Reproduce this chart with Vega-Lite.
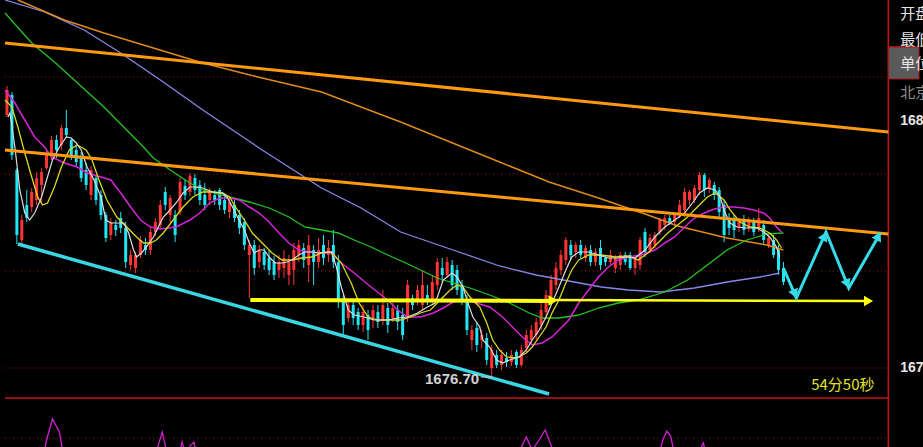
{
"$schema":"https://vega.github.io/schema/vega-lite/v6.json",
"width":923,"height":447,"autosize":{"type":"none"},"padding":0,
"background":"#000000",
"config":{"view":{"stroke":null}},
"datasets":{
"grid":[{"t":-0.4,"t2":178.2,"p":1691.65},{"t":-0.4,"t2":178.2,"p":1686.8},{"t":-0.4,"t2":178.2,"p":1681.95},{"t":-0.4,"t2":178.2,"p":1677.1},{"t":-0.4,"t2":178.2,"p":1673.6}],
"hborder":[{"t":-0.4,"t2":178.2,"p":1675.6},{"t":178.2,"t2":184.2,"p":1693.15}],
"vborder":[{"t":178.2,"p":1673.15,"p2":1695.5}],
"box":[{"t":178.2,"t2":184.4,"p":1693.15,"p2":1691.55}],
"candles":[
{"t":0,"o":1689.75,"c":1691.0,"h":1691.2,"l":1689.65},
{"t":1,"o":1690.75,"c":1687.75,"h":1690.9,"l":1687.5},
{"t":2,"o":1687.0,"c":1683.75,"h":1687.1,"l":1683.3},
{"t":3,"o":1683.5,"c":1684.5,"h":1684.75,"l":1683.25},
{"t":4,"o":1685.25,"c":1684.6,"h":1686.0,"l":1684.4},
{"t":5,"o":1685.15,"c":1685.9,"h":1686.1,"l":1684.9},
{"t":6,"o":1685.5,"c":1686.6,"h":1686.9,"l":1685.25},
{"t":7,"o":1686.25,"c":1686.9,"h":1687.1,"l":1685.35},
{"t":8,"o":1687.1,"c":1687.75,"h":1688.0,"l":1687.0},
{"t":9,"o":1687.65,"c":1688.5,"h":1688.7,"l":1687.5},
{"t":10,"o":1688.5,"c":1688.0,"h":1688.75,"l":1687.6},
{"t":11,"o":1688.25,"c":1689.1,"h":1689.25,"l":1688.0},
{"t":12,"o":1689.1,"c":1688.75,"h":1690.0,"l":1688.6},
{"t":13,"o":1688.5,"c":1687.75,"h":1688.6,"l":1687.5},
{"t":14,"o":1688.0,"c":1687.4,"h":1688.25,"l":1687.15},
{"t":15,"o":1687.6,"c":1686.6,"h":1687.9,"l":1686.4},
{"t":16,"o":1687.0,"c":1686.25,"h":1687.35,"l":1686.0},
{"t":17,"o":1685.75,"c":1687.0,"h":1687.2,"l":1685.5},
{"t":18,"o":1686.6,"c":1685.5,"h":1686.75,"l":1685.25},
{"t":19,"o":1685.75,"c":1684.75,"h":1686.0,"l":1684.5},
{"t":20,"o":1684.75,"c":1683.6,"h":1684.9,"l":1683.4},
{"t":21,"o":1683.75,"c":1684.4,"h":1684.6,"l":1683.5},
{"t":22,"o":1684.25,"c":1684.0,"h":1684.5,"l":1683.7},
{"t":23,"o":1684.6,"c":1684.1,"h":1684.9,"l":1683.85},
{"t":24,"o":1684.1,"c":1682.4,"h":1684.4,"l":1682.1},
{"t":25,"o":1682.25,"c":1682.75,"h":1683.0,"l":1682.0},
{"t":26,"o":1682.1,"c":1682.75,"h":1682.9,"l":1681.85},
{"t":27,"o":1682.75,"c":1683.5,"h":1683.7,"l":1682.6},
{"t":28,"o":1683.25,"c":1683.0,"h":1683.6,"l":1682.75},
{"t":29,"o":1683.0,"c":1683.9,"h":1684.1,"l":1682.75},
{"t":30,"o":1683.9,"c":1684.4,"h":1684.6,"l":1683.7},
{"t":31,"o":1684.25,"c":1685.25,"h":1685.5,"l":1684.1},
{"t":32,"o":1685.9,"c":1685.25,"h":1686.15,"l":1685.0},
{"t":33,"o":1684.75,"c":1685.6,"h":1685.75,"l":1684.4},
{"t":34,"o":1684.75,"c":1683.75,"h":1685.0,"l":1683.4},
{"t":35,"o":1684.9,"c":1686.4,"h":1686.6,"l":1684.75},
{"t":36,"o":1686.2,"c":1685.75,"h":1686.5,"l":1685.5},
{"t":37,"o":1685.9,"c":1686.7,"h":1686.85,"l":1685.7},
{"t":38,"o":1686.6,"c":1686.0,"h":1686.8,"l":1685.75},
{"t":39,"o":1686.25,"c":1685.5,"h":1686.5,"l":1685.25},
{"t":40,"o":1685.75,"c":1685.25,"h":1686.35,"l":1685.0},
{"t":41,"o":1685.5,"c":1685.9,"h":1686.1,"l":1685.25},
{"t":42,"o":1685.75,"c":1685.5,"h":1686.0,"l":1685.25},
{"t":43,"o":1686.0,"c":1685.25,"h":1686.1,"l":1685.0},
{"t":44,"o":1685.5,"c":1685.0,"h":1685.7,"l":1684.8},
{"t":45,"o":1684.9,"c":1685.4,"h":1685.6,"l":1684.6},
{"t":46,"o":1685.25,"c":1684.6,"h":1685.5,"l":1684.4},
{"t":47,"o":1684.75,"c":1684.1,"h":1685.0,"l":1683.8},
{"t":48,"o":1684.4,"c":1683.25,"h":1684.6,"l":1683.0},
{"t":49,"o":1682.75,"c":1683.25,"h":1683.5,"l":1680.6},
{"t":50,"o":1683.25,"c":1682.1,"h":1683.5,"l":1681.75},
{"t":51,"o":1682.4,"c":1683.0,"h":1683.25,"l":1682.1},
{"t":52,"o":1682.9,"c":1682.25,"h":1683.1,"l":1682.0},
{"t":53,"o":1682.6,"c":1682.0,"h":1683.0,"l":1681.75},
{"t":54,"o":1682.4,"c":1681.75,"h":1682.7,"l":1681.5},
{"t":55,"o":1682.0,"c":1682.4,"h":1682.75,"l":1681.6},
{"t":56,"o":1682.1,"c":1682.6,"h":1683.0,"l":1681.6},
{"t":57,"o":1681.75,"c":1682.4,"h":1682.75,"l":1681.25},
{"t":58,"o":1682.0,"c":1683.0,"h":1683.35,"l":1681.25},
{"t":59,"o":1682.75,"c":1683.25,"h":1683.5,"l":1682.4},
{"t":60,"o":1683.1,"c":1682.5,"h":1683.35,"l":1682.1},
{"t":61,"o":1682.25,"c":1683.25,"h":1683.75,"l":1681.4},
{"t":62,"o":1683.0,"c":1682.4,"h":1683.25,"l":1681.25},
{"t":63,"o":1682.4,"c":1683.0,"h":1683.6,"l":1682.1},
{"t":64,"o":1683.25,"c":1682.6,"h":1683.75,"l":1682.25},
{"t":65,"o":1682.75,"c":1683.1,"h":1683.5,"l":1682.4},
{"t":66,"o":1683.25,"c":1682.4,"h":1684.0,"l":1682.1},
{"t":67,"o":1682.4,"c":1680.5,"h":1682.75,"l":1680.1},
{"t":68,"o":1680.5,"c":1679.25,"h":1680.75,"l":1678.75},
{"t":69,"o":1679.6,"c":1680.25,"h":1680.5,"l":1679.4},
{"t":70,"o":1680.25,"c":1679.6,"h":1680.5,"l":1679.25},
{"t":71,"o":1679.9,"c":1679.25,"h":1680.1,"l":1679.0},
{"t":72,"o":1679.25,"c":1679.9,"h":1680.25,"l":1678.9},
{"t":73,"o":1679.75,"c":1679.0,"h":1680.0,"l":1678.5},
{"t":74,"o":1679.6,"c":1680.0,"h":1680.25,"l":1679.1},
{"t":75,"o":1679.9,"c":1679.4,"h":1680.25,"l":1679.1},
{"t":76,"o":1679.5,"c":1680.25,"h":1681.0,"l":1679.25},
{"t":77,"o":1680.1,"c":1679.25,"h":1680.35,"l":1678.85},
{"t":78,"o":1679.6,"c":1680.1,"h":1680.35,"l":1679.4},
{"t":79,"o":1680.0,"c":1679.4,"h":1680.25,"l":1679.0},
{"t":80,"o":1679.75,"c":1678.75,"h":1680.1,"l":1678.5},
{"t":81,"o":1679.6,"c":1681.25,"h":1681.5,"l":1679.4},
{"t":82,"o":1680.6,"c":1680.25,"h":1680.75,"l":1680.0},
{"t":83,"o":1680.5,"c":1681.0,"h":1681.25,"l":1680.25},
{"t":84,"o":1680.25,"c":1681.25,"h":1682.0,"l":1680.0},
{"t":85,"o":1680.75,"c":1680.5,"h":1681.25,"l":1680.25},
{"t":86,"o":1680.5,"c":1681.4,"h":1681.75,"l":1680.25},
{"t":87,"o":1681.25,"c":1682.4,"h":1682.6,"l":1681.0},
{"t":88,"o":1682.1,"c":1681.75,"h":1682.6,"l":1681.4},
{"t":89,"o":1681.75,"c":1682.4,"h":1682.65,"l":1681.6},
{"t":90,"o":1682.25,"c":1681.25,"h":1682.5,"l":1681.0},
{"t":91,"o":1682.0,"c":1681.0,"h":1682.25,"l":1680.75},
{"t":92,"o":1681.25,"c":1680.5,"h":1681.5,"l":1680.25},
{"t":93,"o":1680.5,"c":1679.0,"h":1680.75,"l":1678.75},
{"t":94,"o":1678.5,"c":1679.0,"h":1679.25,"l":1678.0},
{"t":95,"o":1679.1,"c":1678.25,"h":1679.4,"l":1677.9},
{"t":96,"o":1678.5,"c":1678.75,"h":1679.0,"l":1678.1},
{"t":97,"o":1678.6,"c":1677.5,"h":1678.85,"l":1677.25},
{"t":98,"o":1677.1,"c":1678.0,"h":1678.25,"l":1676.7},
{"t":99,"o":1677.75,"c":1677.25,"h":1678.0,"l":1677.1},
{"t":100,"o":1677.25,"c":1677.75,"h":1678.0,"l":1677.0},
{"t":101,"o":1677.6,"c":1677.4,"h":1677.9,"l":1677.15},
{"t":102,"o":1677.4,"c":1677.75,"h":1678.0,"l":1677.2},
{"t":103,"o":1677.9,"c":1677.25,"h":1678.0,"l":1677.1},
{"t":104,"o":1677.25,"c":1678.0,"h":1678.25,"l":1677.15},
{"t":105,"o":1678.1,"c":1678.75,"h":1679.0,"l":1677.9},
{"t":106,"o":1678.5,"c":1679.0,"h":1679.25,"l":1678.25},
{"t":107,"o":1678.75,"c":1679.4,"h":1679.6,"l":1678.5},
{"t":108,"o":1679.25,"c":1680.0,"h":1680.5,"l":1679.0},
{"t":109,"o":1679.9,"c":1680.75,"h":1681.0,"l":1679.6},
{"t":110,"o":1680.6,"c":1681.5,"h":1681.75,"l":1680.4},
{"t":111,"o":1681.25,"c":1682.1,"h":1682.4,"l":1681.0},
{"t":112,"o":1682.0,"c":1682.75,"h":1683.0,"l":1681.75},
{"t":113,"o":1682.5,"c":1683.5,"h":1683.65,"l":1682.25},
{"t":114,"o":1683.25,"c":1682.75,"h":1683.5,"l":1682.5},
{"t":115,"o":1682.9,"c":1683.25,"h":1683.4,"l":1682.6},
{"t":116,"o":1683.25,"c":1682.75,"h":1683.5,"l":1682.6},
{"t":117,"o":1682.6,"c":1683.1,"h":1683.25,"l":1682.4},
{"t":118,"o":1683.0,"c":1682.4,"h":1683.25,"l":1682.2},
{"t":119,"o":1682.4,"c":1682.9,"h":1683.1,"l":1682.2},
{"t":120,"o":1683.1,"c":1682.25,"h":1683.5,"l":1682.0},
{"t":121,"o":1682.6,"c":1682.4,"h":1682.75,"l":1682.2},
{"t":122,"o":1682.4,"c":1682.75,"h":1683.0,"l":1682.25},
{"t":123,"o":1682.1,"c":1682.6,"h":1682.75,"l":1681.85},
{"t":124,"o":1682.25,"c":1682.75,"h":1682.9,"l":1682.0},
{"t":125,"o":1682.75,"c":1682.4,"h":1682.9,"l":1682.25},
{"t":126,"o":1682.75,"c":1682.1,"h":1682.9,"l":1682.0},
{"t":127,"o":1682.1,"c":1682.6,"h":1682.75,"l":1681.75},
{"t":128,"o":1682.25,"c":1683.5,"h":1683.65,"l":1682.0},
{"t":129,"o":1683.9,"c":1682.9,"h":1684.1,"l":1682.65},
{"t":130,"o":1683.0,"c":1683.6,"h":1683.8,"l":1682.85},
{"t":131,"o":1683.25,"c":1683.75,"h":1683.9,"l":1683.1},
{"t":132,"o":1683.9,"c":1684.5,"h":1684.6,"l":1683.75},
{"t":133,"o":1684.25,"c":1684.6,"h":1684.75,"l":1684.0},
{"t":134,"o":1684.6,"c":1684.4,"h":1684.75,"l":1684.25},
{"t":135,"o":1684.4,"c":1684.75,"h":1684.9,"l":1684.2},
{"t":136,"o":1684.75,"c":1685.25,"h":1685.5,"l":1684.6},
{"t":137,"o":1685.0,"c":1685.9,"h":1686.1,"l":1684.65},
{"t":138,"o":1685.5,"c":1685.9,"h":1686.0,"l":1685.25},
{"t":139,"o":1685.5,"c":1686.1,"h":1686.25,"l":1685.35},
{"t":140,"o":1686.0,"c":1686.75,"h":1686.9,"l":1685.75},
{"t":141,"o":1686.75,"c":1686.0,"h":1686.85,"l":1685.65},
{"t":142,"o":1686.1,"c":1686.5,"h":1686.6,"l":1685.85},
{"t":143,"o":1686.25,"c":1685.75,"h":1686.4,"l":1685.5},
{"t":144,"o":1686.0,"c":1684.9,"h":1686.15,"l":1684.65},
{"t":145,"o":1685.25,"c":1683.75,"h":1685.5,"l":1683.4},
{"t":146,"o":1684.6,"c":1684.1,"h":1684.85,"l":1683.75},
{"t":147,"o":1684.5,"c":1684.0,"h":1684.75,"l":1683.6},
{"t":148,"o":1684.1,"c":1684.5,"h":1684.6,"l":1683.9},
{"t":149,"o":1684.5,"c":1684.0,"h":1684.75,"l":1683.75},
{"t":150,"o":1684.1,"c":1684.5,"h":1684.65,"l":1683.9},
{"t":151,"o":1684.4,"c":1683.9,"h":1684.6,"l":1683.7},
{"t":152,"o":1684.1,"c":1684.6,"h":1685.1,"l":1683.9},
{"t":153,"o":1684.25,"c":1683.5,"h":1684.5,"l":1683.25},
{"t":154,"o":1683.25,"c":1683.6,"h":1683.75,"l":1683.1},
{"t":155,"o":1683.5,"c":1682.75,"h":1683.75,"l":1682.6},
{"t":156,"o":1683.0,"c":1682.0,"h":1683.25,"l":1681.75},
{"t":157,"o":1682.1,"c":1681.4,"h":1682.4,"l":1681.25}
],
"white":[{"t":0.2,"p":1689.65},{"t":0.6,"p":1689.85},{"t":1.6,"p":1688.15},{"t":2.6,"p":1686.0},{"t":3.6,"p":1684.85},{"t":4.6,"p":1684.5},{"t":5.6,"p":1684.85},{"t":7.0,"p":1685.65},{"t":8.0,"p":1686.5},{"t":9.2,"p":1687.5},{"t":10.6,"p":1688.15},{"t":12.0,"p":1688.65},{"t":13.0,"p":1688.6},{"t":14.0,"p":1688.35},{"t":15.0,"p":1688.0},{"t":16.2,"p":1687.15},{"t":17.6,"p":1686.5},{"t":19.0,"p":1685.65},{"t":20.0,"p":1684.5},{"t":21.0,"p":1684.35},{"t":22.2,"p":1684.35},{"t":23.6,"p":1684.35},{"t":24.6,"p":1683.85},{"t":25.6,"p":1683.0},{"t":26.2,"p":1682.65},{"t":27.2,"p":1682.85},{"t":28.2,"p":1683.15},{"t":29.6,"p":1683.65},{"t":30.6,"p":1684.15},{"t":31.6,"p":1684.65},{"t":32.6,"p":1684.9},{"t":34.2,"p":1685.35},{"t":35.6,"p":1685.85},{"t":37.0,"p":1686.15},{"t":38.2,"p":1686.15},{"t":39.6,"p":1686.1},{"t":41.6,"p":1685.9},{"t":43.6,"p":1685.85},{"t":44.6,"p":1685.6},{"t":45.6,"p":1685.15},{"t":46.6,"p":1684.65},{"t":48.0,"p":1684.0},{"t":49.0,"p":1683.35},{"t":50.0,"p":1682.85},{"t":51.0,"p":1683.0},{"t":52.0,"p":1683.0},{"t":53.0,"p":1682.65},{"t":54.2,"p":1682.35},{"t":55.6,"p":1682.35},{"t":56.6,"p":1682.4},{"t":57.6,"p":1682.5},{"t":59.0,"p":1682.75},{"t":60.2,"p":1682.9},{"t":61.6,"p":1682.9},{"t":63.0,"p":1682.85},{"t":64.2,"p":1682.9},{"t":65.6,"p":1682.9},{"t":66.6,"p":1682.15},{"t":67.6,"p":1681.15},{"t":69.0,"p":1680.0},{"t":70.2,"p":1679.75},{"t":72.2,"p":1679.65},{"t":74.2,"p":1679.5},{"t":77.0,"p":1679.5},{"t":79.0,"p":1679.6},{"t":81.0,"p":1679.65},{"t":83.0,"p":1679.85},{"t":85.0,"p":1680.15},{"t":86.6,"p":1680.35},{"t":88.2,"p":1681.5},{"t":90.0,"p":1681.85},{"t":91.0,"p":1681.65},{"t":92.2,"p":1681.15},{"t":93.2,"p":1680.35},{"t":94.2,"p":1679.65},{"t":95.6,"p":1679.15},{"t":96.2,"p":1678.5},{"t":97.6,"p":1678.15},{"t":99.0,"p":1677.5},{"t":100.2,"p":1677.35},{"t":101.6,"p":1677.5},{"t":103.6,"p":1677.65},{"t":105.0,"p":1678.0},{"t":106.2,"p":1678.5},{"t":107.6,"p":1679.0},{"t":109.0,"p":1679.65},{"t":110.2,"p":1680.35},{"t":111.6,"p":1681.15},{"t":113.0,"p":1682.0},{"t":114.2,"p":1682.65},{"t":115.6,"p":1682.9},{"t":117.6,"p":1682.9},{"t":119.6,"p":1682.75},{"t":121.6,"p":1682.6},{"t":123.6,"p":1682.6},{"t":125.6,"p":1682.65},{"t":127.0,"p":1682.6},{"t":129.0,"p":1683.0},{"t":131.0,"p":1683.65},{"t":133.0,"p":1684.15},{"t":135.0,"p":1684.5},{"t":137.0,"p":1684.85},{"t":138.6,"p":1685.35},{"t":140.0,"p":1685.85},{"t":141.6,"p":1686.1},{"t":143.2,"p":1686.0},{"t":144.2,"p":1685.65},{"t":145.2,"p":1684.85},{"t":146.2,"p":1684.35},{"t":147.6,"p":1684.15},{"t":149.6,"p":1684.1},{"t":151.6,"p":1684.1},{"t":153.0,"p":1683.9},{"t":154.2,"p":1683.65},{"t":155.6,"p":1683.15},{"t":156.2,"p":1682.65}],
"yellow":[{"t":-0.4,"p":1690.5},{"t":1.0,"p":1690.15},{"t":2.2,"p":1689.15},{"t":3.6,"p":1687.85},{"t":5.0,"p":1686.65},{"t":6.2,"p":1685.65},{"t":7.2,"p":1685.25},{"t":8.2,"p":1685.35},{"t":9.6,"p":1686.15},{"t":11.0,"p":1687.15},{"t":12.6,"p":1688.0},{"t":14.2,"p":1688.25},{"t":16.0,"p":1688.0},{"t":17.2,"p":1687.5},{"t":18.6,"p":1686.5},{"t":20.2,"p":1685.5},{"t":22.2,"p":1684.65},{"t":24.2,"p":1684.15},{"t":26.2,"p":1683.65},{"t":27.6,"p":1683.35},{"t":29.0,"p":1683.35},{"t":30.2,"p":1683.5},{"t":31.6,"p":1683.85},{"t":33.6,"p":1684.5},{"t":35.6,"p":1685.15},{"t":37.6,"p":1685.65},{"t":39.6,"p":1685.9},{"t":41.6,"p":1685.9},{"t":43.6,"p":1685.85},{"t":45.0,"p":1685.65},{"t":46.2,"p":1685.15},{"t":48.0,"p":1684.5},{"t":49.6,"p":1683.85},{"t":51.6,"p":1683.35},{"t":53.6,"p":1682.85},{"t":55.6,"p":1682.5},{"t":57.6,"p":1682.5},{"t":59.6,"p":1682.6},{"t":61.6,"p":1682.65},{"t":63.6,"p":1682.85},{"t":65.6,"p":1682.9},{"t":67.6,"p":1682.35},{"t":69.6,"p":1681.35},{"t":71.2,"p":1680.35},{"t":73.0,"p":1679.65},{"t":75.0,"p":1679.5},{"t":77.0,"p":1679.5},{"t":79.6,"p":1679.5},{"t":81.6,"p":1679.65},{"t":83.6,"p":1679.85},{"t":85.6,"p":1680.0},{"t":87.6,"p":1680.5},{"t":89.6,"p":1681.0},{"t":91.0,"p":1681.25},{"t":92.2,"p":1681.15},{"t":93.6,"p":1680.65},{"t":95.6,"p":1680.15},{"t":97.0,"p":1679.35},{"t":98.2,"p":1678.5},{"t":99.6,"p":1678.0},{"t":101.0,"p":1677.65},{"t":103.0,"p":1677.6},{"t":105.0,"p":1677.85},{"t":106.2,"p":1678.15},{"t":107.6,"p":1678.65},{"t":109.0,"p":1679.15},{"t":110.2,"p":1679.85},{"t":111.6,"p":1680.5},{"t":113.0,"p":1681.35},{"t":114.2,"p":1682.0},{"t":115.6,"p":1682.5},{"t":117.6,"p":1682.75},{"t":120.2,"p":1682.75},{"t":123.0,"p":1682.65},{"t":125.6,"p":1682.7},{"t":127.6,"p":1682.5},{"t":129.6,"p":1682.85},{"t":131.6,"p":1683.35},{"t":133.6,"p":1683.85},{"t":135.6,"p":1684.25},{"t":137.6,"p":1684.65},{"t":139.6,"p":1685.15},{"t":141.6,"p":1685.65},{"t":143.2,"p":1685.85},{"t":145.0,"p":1685.5},{"t":146.2,"p":1685.0},{"t":148.2,"p":1684.4},{"t":150.2,"p":1684.15},{"t":152.2,"p":1684.1},{"t":154.2,"p":1683.85},{"t":155.6,"p":1683.5},{"t":156.6,"p":1683.1}],
"magenta":[{"t":-0.4,"p":1691.0},{"t":1.6,"p":1690.35},{"t":3.6,"p":1689.5},{"t":5.6,"p":1688.65},{"t":7.6,"p":1688.15},{"t":9.0,"p":1687.65},{"t":11.6,"p":1687.35},{"t":14.2,"p":1687.15},{"t":16.2,"p":1686.85},{"t":19.0,"p":1686.65},{"t":21.0,"p":1686.5},{"t":23.0,"p":1685.85},{"t":25.0,"p":1685.15},{"t":27.0,"p":1684.5},{"t":29.0,"p":1684.15},{"t":31.0,"p":1684.05},{"t":34.2,"p":1684.15},{"t":37.0,"p":1684.5},{"t":39.0,"p":1684.85},{"t":41.0,"p":1685.35},{"t":43.0,"p":1685.6},{"t":45.0,"p":1685.6},{"t":47.0,"p":1685.5},{"t":49.0,"p":1685.15},{"t":51.0,"p":1684.85},{"t":53.0,"p":1684.4},{"t":55.0,"p":1683.85},{"t":57.0,"p":1683.35},{"t":59.0,"p":1683.0},{"t":61.0,"p":1682.9},{"t":63.6,"p":1682.85},{"t":65.6,"p":1682.85},{"t":67.6,"p":1682.35},{"t":70.2,"p":1681.85},{"t":73.6,"p":1681.15},{"t":77.0,"p":1680.5},{"t":79.0,"p":1680.0},{"t":81.0,"p":1679.65},{"t":83.6,"p":1679.65},{"t":86.2,"p":1679.85},{"t":88.2,"p":1680.1},{"t":90.2,"p":1680.4},{"t":92.2,"p":1680.5},{"t":94.2,"p":1680.4},{"t":97.6,"p":1680.15},{"t":100.2,"p":1679.65},{"t":102.2,"p":1679.15},{"t":104.2,"p":1678.65},{"t":106.2,"p":1678.25},{"t":108.2,"p":1678.35},{"t":110.2,"p":1678.65},{"t":111.6,"p":1679.0},{"t":113.6,"p":1679.5},{"t":115.6,"p":1680.35},{"t":117.6,"p":1681.0},{"t":119.6,"p":1681.65},{"t":121.6,"p":1682.15},{"t":123.6,"p":1682.5},{"t":125.6,"p":1682.65},{"t":128.2,"p":1682.75},{"t":131.0,"p":1683.0},{"t":133.0,"p":1683.35},{"t":135.0,"p":1683.65},{"t":137.0,"p":1684.15},{"t":139.0,"p":1684.6},{"t":141.0,"p":1684.85},{"t":143.0,"p":1685.05},{"t":145.0,"p":1685.15},{"t":147.0,"p":1685.15},{"t":149.0,"p":1685.1},{"t":151.0,"p":1685.0},{"t":153.0,"p":1684.85},{"t":154.2,"p":1684.6},{"t":155.6,"p":1684.15},{"t":156.6,"p":1683.9}],
"green":[{"t":-0.4,"p":1694.85},{"t":5.0,"p":1693.35},{"t":9.6,"p":1692.4},{"t":13.6,"p":1691.5},{"t":19.6,"p":1690.15},{"t":24.2,"p":1689.0},{"t":27.6,"p":1688.15},{"t":29.6,"p":1687.6},{"t":33.0,"p":1687.0},{"t":37.0,"p":1686.35},{"t":39.6,"p":1686.0},{"t":45.0,"p":1685.65},{"t":49.0,"p":1685.4},{"t":53.0,"p":1685.1},{"t":57.0,"p":1684.65},{"t":60.2,"p":1684.15},{"t":63.6,"p":1684.0},{"t":67.0,"p":1683.85},{"t":70.2,"p":1683.5},{"t":73.6,"p":1683.15},{"t":77.0,"p":1682.75},{"t":80.2,"p":1682.4},{"t":83.6,"p":1682.0},{"t":87.0,"p":1681.6},{"t":90.2,"p":1681.35},{"t":93.6,"p":1681.1},{"t":97.6,"p":1680.75},{"t":101.6,"p":1680.35},{"t":105.6,"p":1679.85},{"t":108.2,"p":1679.6},{"t":111.6,"p":1679.6},{"t":115.6,"p":1679.75},{"t":119.6,"p":1680.1},{"t":123.6,"p":1680.35},{"t":127.6,"p":1680.5},{"t":133.0,"p":1680.9},{"t":137.6,"p":1681.5},{"t":141.6,"p":1682.25},{"t":145.6,"p":1683.0},{"t":149.6,"p":1683.5},{"t":153.6,"p":1683.8},{"t":157.0,"p":1683.85}],
"purple":[{"t":-0.4,"p":1695.5},{"t":7.6,"p":1694.9},{"t":15.6,"p":1694.0},{"t":23.0,"p":1692.85},{"t":31.6,"p":1691.4},{"t":39.6,"p":1690.0},{"t":51.6,"p":1688.0},{"t":63.6,"p":1686.1},{"t":71.6,"p":1685.1},{"t":79.6,"p":1683.9},{"t":90.2,"p":1683.0},{"t":99.6,"p":1682.2},{"t":107.0,"p":1681.75},{"t":113.6,"p":1681.45},{"t":120.2,"p":1681.15},{"t":125.6,"p":1681.0},{"t":132.2,"p":1680.9},{"t":139.0,"p":1681.1},{"t":145.6,"p":1681.4},{"t":152.2,"p":1681.65},{"t":156.2,"p":1681.85}],
"orangeThin":[{"t":2.2,"p":1695.5},{"t":11.6,"p":1694.5},{"t":19.6,"p":1693.85},{"t":29.6,"p":1693.1},{"t":39.6,"p":1692.35},{"t":51.6,"p":1691.6},{"t":63.6,"p":1690.9},{"t":79.6,"p":1689.4},{"t":89.6,"p":1688.4},{"t":99.6,"p":1687.4},{"t":109.6,"p":1686.4},{"t":119.6,"p":1685.6},{"t":129.6,"p":1684.75},{"t":135.6,"p":1684.2},{"t":145.6,"p":1683.6},{"t":153.6,"p":1683.25},{"t":157.0,"p":1683.0}],
"trends":[{"id":"a","t":-0.4,"p":1693.35},{"id":"a","t":178.2,"p":1688.9},{"id":"b","t":-0.4,"p":1688.0},{"id":"b","t":178.2,"p":1683.8}],
"cyanTrend":[{"t":2.2,"p":1683.3},{"t":109.6,"p":1675.8}],
"yl1":[{"t":49.2,"p":1680.5},{"t":110.2,"p":1680.45}],
"yl2":[{"t":110.2,"p":1680.5},{"t":173.6,"p":1680.45}],
"yheads":[{"t":110.4,"p":1680.47},{"t":174.2,"p":1680.45}],
"zigzag":[{"t":157.0,"p":1682.1},{"t":159.6,"p":1680.6},{"t":165.6,"p":1683.9},{"t":170.2,"p":1681.1},{"t":176.6,"p":1683.85}],
"zheads":[{"dir":"down","t":159.3,"p":1680.8},{"dir":"up","t":165.3,"p":1683.7},{"dir":"down","t":169.9,"p":1681.3},{"dir":"up","t":176.2,"p":1683.7}],
"lowerMag":[{"t":-0.4,"p":1672.5},{"t":7.2,"p":1672.5},{"t":8.0,"p":1673.5},{"t":9.2,"p":1674.55},{"t":10.6,"p":1673.9},{"t":11.6,"p":1672.5},{"t":29.6,"p":1672.5},{"t":30.6,"p":1673.25},{"t":31.4,"p":1673.9},{"t":32.2,"p":1673.0},{"t":34.6,"p":1672.5},{"t":35.4,"p":1673.4},{"t":36.2,"p":1672.75},{"t":37.0,"p":1673.2},{"t":37.8,"p":1673.4},{"t":38.6,"p":1672.5},{"t":102.6,"p":1672.5},{"t":104.0,"p":1673.15},{"t":105.0,"p":1673.65},{"t":106.2,"p":1673.0},{"t":107.6,"p":1673.5},{"t":108.8,"p":1674.0},{"t":110.0,"p":1673.25},{"t":111.0,"p":1672.5},{"t":131.6,"p":1672.5},{"t":132.6,"p":1673.5},{"t":133.4,"p":1673.95},{"t":134.2,"p":1673.7},{"t":135.2,"p":1672.5},{"t":139.6,"p":1672.5},{"t":140.4,"p":1673.15},{"t":140.8,"p":1673.35},{"t":141.6,"p":1672.5},{"t":178.2,"p":1672.5}],
"lowTick":[{"t":95.8,"p":1676.65},{"t":98.2,"p":1676.65}],
"lowLabel":[{"t":90.0,"p":1676.55,"s":"1676.70"}],
"timer":[{"t":169.0,"p":1676.25,"s":"54分50秒"}],
"panelWhite":[{"t":180.6,"p":1694.8,"s":"开盘"},{"t":180.6,"p":1693.5,"s":"最低"},{"t":180.6,"p":1692.3,"s":"单位"}],
"panelGray":[{"t":180.6,"p":1690.85,"s":"北京"}],
"panelNum":[{"t":180.6,"p":1689.45,"s":"1689.40"},{"t":180.6,"p":1677.1,"s":"1677.10"}]
},
"encoding":{
"x":{"field":"t","type":"quantitative","scale":{"domain":[-0.4,184.2],"nice":false,"zero":false},"axis":null},
"y":{"field":"p","type":"quantitative","scale":{"domain":[1673.15,1695.5],"nice":false,"zero":false},"axis":null}
},
"layer":[
{"data":{"name":"grid"},"mark":{"type":"rule","color":"#a01414","strokeDash":[1,3],"strokeWidth":1},"encoding":{"x2":{"field":"t2"}}},
{"data":{"name":"hborder"},"mark":{"type":"rule","color":"#c41414","strokeWidth":1.5},"encoding":{"x2":{"field":"t2"}}},
{"data":{"name":"vborder"},"mark":{"type":"rule","color":"#c41414","strokeWidth":1.5},"encoding":{"y2":{"field":"p2"}}},
{"data":{"name":"box"},"mark":{"type":"rect","fill":"#5a5a5a","stroke":"#b01414","strokeWidth":1},"encoding":{"x2":{"field":"t2"},"y2":{"field":"p2"}}},
{"data":{"name":"candles"},"mark":{"type":"rule","strokeWidth":1},"encoding":{"y":{"field":"l","type":"quantitative","scale":{"domain":[1673.15,1695.5],"nice":false,"zero":false},"axis":null},"y2":{"field":"h"},"color":{"condition":{"test":"datum.c >= datum.o","value":"#ff3434"},"value":"#22e6f5"}}},
{"data":{"name":"candles"},"mark":{"type":"bar","size":3},"encoding":{"y":{"field":"o","type":"quantitative","scale":{"domain":[1673.15,1695.5],"nice":false,"zero":false},"axis":null},"y2":{"field":"c"},"color":{"condition":{"test":"datum.c >= datum.o","value":"#ff3434"},"value":"#22e6f5"}}},
{"data":{"name":"purple"},"mark":{"type":"line","color":"#8a86e8","strokeWidth":1.3}},
{"data":{"name":"orangeThin"},"mark":{"type":"line","color":"#e08a1c","strokeWidth":1.5}},
{"data":{"name":"green"},"mark":{"type":"line","color":"#22c422","strokeWidth":1.3}},
{"data":{"name":"magenta"},"mark":{"type":"line","color":"#d624d6","strokeWidth":1.5}},
{"data":{"name":"yellow"},"mark":{"type":"line","color":"#d8d820","strokeWidth":1.3}},
{"data":{"name":"white"},"mark":{"type":"line","color":"#dcdcdc","strokeWidth":1.2}},
{"data":{"name":"trends"},"mark":{"type":"line","color":"#ff9a10","strokeWidth":3},"encoding":{"detail":{"field":"id"}}},
{"data":{"name":"cyanTrend"},"mark":{"type":"line","color":"#3ad6e4","strokeWidth":3.5}},
{"data":{"name":"yl1"},"mark":{"type":"line","color":"#ffff10","strokeWidth":4}},
{"data":{"name":"yl2"},"mark":{"type":"line","color":"#ffff10","strokeWidth":2.5}},
{"data":{"name":"yheads"},"mark":{"type":"point","shape":"triangle-right","filled":true,"size":110,"color":"#ffff10","opacity":1}},
{"data":{"name":"zigzag"},"mark":{"type":"line","color":"#33dce8","strokeWidth":3}},
{"data":{"name":"zheads"},"transform":[{"filter":"datum.dir == 'down'"}],"mark":{"type":"point","shape":"triangle-up","filled":true,"size":110,"color":"#33dce8","opacity":1,"angle":157}},
{"data":{"name":"zheads"},"transform":[{"filter":"datum.dir == 'up'"}],"mark":{"type":"point","shape":"triangle-up","filled":true,"size":110,"color":"#33dce8","opacity":1,"angle":27}},
{"data":{"name":"lowerMag"},"mark":{"type":"line","color":"#d020d0","strokeWidth":1.3,"clip":true}},
{"data":{"name":"lowTick"},"mark":{"type":"line","color":"#c8c8c8","strokeWidth":1}},
{"data":{"name":"lowLabel"},"mark":{"type":"text","font":"Liberation Sans","fontSize":15,"fontWeight":"bold","color":"#d2d2d2","align":"center","baseline":"middle"},"encoding":{"text":{"field":"s"}}},
{"data":{"name":"timer"},"mark":{"type":"text","font":"Noto Sans CJK SC","fontSize":15,"color":"#e2e22a","align":"center","baseline":"middle"},"encoding":{"text":{"field":"s"}}},
{"data":{"name":"panelWhite"},"mark":{"type":"text","font":"Noto Sans CJK SC","fontSize":15,"color":"#e6e6e6","align":"left","baseline":"middle"},"encoding":{"text":{"field":"s"}}},
{"data":{"name":"panelGray"},"mark":{"type":"text","font":"Noto Sans CJK SC","fontSize":15,"color":"#8c8c8c","align":"left","baseline":"middle"},"encoding":{"text":{"field":"s"}}},
{"data":{"name":"panelNum"},"mark":{"type":"text","font":"Liberation Sans","fontSize":14,"fontWeight":"bold","color":"#e6e6e6","align":"left","baseline":"middle"},"encoding":{"text":{"field":"s"}}}
]
}
